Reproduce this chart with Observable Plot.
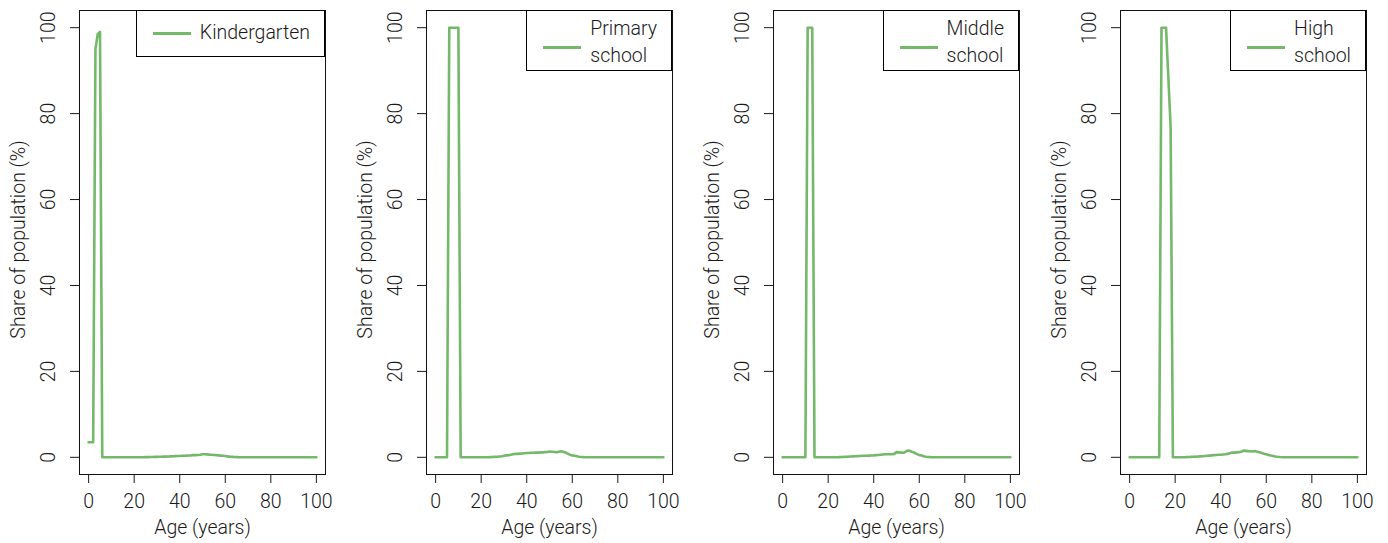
<!DOCTYPE html>
<html>
<head>
<meta charset="utf-8">
<script src="https://cdn.jsdelivr.net/npm/d3@7"></script>
<script src="https://cdn.jsdelivr.net/npm/@observablehq/plot@0.6"></script>
<style>
  html, body { margin: 0; padding: 0; background: #fff; }
  #wrap { display: flex; width: 1388px; height: 543px; }
  .panel { position: relative; width: 347px; height: 543px; }
  .leg { position: absolute; top: 10px; right: 22px; border: 1px solid #000; background: #fff;
         font-family: Roboto, sans-serif; font-weight: 300; font-size: 19.5px; line-height: 26.6px;
         color: #1a1a1a; padding-left: 63px; padding-right: 14px; box-sizing: border-box; }
  .leg.one { padding-top: 9px; height: 47px; }
  .leg.two { padding-top: 5px; height: 61px; }
  .leg .seg { position: absolute; left: 16px; width: 38px; height: 3px; background: #74b86a; }
  .leg.one .seg { top: 20.5px; }
  .leg.two .seg { top: 34.5px; }
</style>
</head>
<body>
<div id="wrap"></div>
<script>
const ages = d3.range(0, 101);

const seriesNames = ["Kindergarten", "Primary\nschool", "Middle\nschool", "High\nschool"];

const kindergarten = [
  3.5,3.5,3.5,95,98.5,99,0,0,0,0,
  0,0,0,0,0,0,0,0,0,0,
  0,0,0,0.02,0.03,0.05,0.05,0.07,0.08,0.1,
  0.1,0.12,0.14,0.15,0.17,0.2,0.22,0.25,0.27,0.3,
  0.32,0.35,0.37,0.4,0.42,0.45,0.5,0.52,0.55,0.6,
  0.7,0.7,0.68,0.62,0.58,0.55,0.5,0.45,0.4,0.35,
  0.3,0.22,0.15,0.1,0.06,0.04,0.02,0,0,0,
  0,0,0,0,0,0,0,0,0,0,
  0,0,0,0,0,0,0,0,0,0,
  0,0,0,0,0,0,0,0,0,0,
  0
];

const primary = [
  0,0,0,0,0,0,100,100,100,100,
  100,0,0,0,0,0,0,0,0,0,
  0,0,0,0.02,0.04,0.06,0.1,0.15,0.2,0.25,
  0.35,0.45,0.5,0.6,0.7,0.8,0.8,0.85,0.9,0.95,
  1.0,1.0,1.05,1.05,1.1,1.1,1.15,1.15,1.2,1.25,
  1.35,1.3,1.25,1.2,1.3,1.4,1.3,1.1,0.85,0.6,
  0.45,0.35,0.25,0.15,0.08,0.04,0.02,0,0,0,
  0,0,0,0,0,0,0,0,0,0,
  0,0,0,0,0,0,0,0,0,0,
  0,0,0,0,0,0,0,0,0,0,
  0
];

const middle = [
  0,0,0,0,0,0,0,0,0,0,
  0,100,100,100,0,0,0,0,0,0,
  0,0,0,0.02,0.03,0.05,0.07,0.1,0.12,0.15,
  0.2,0.22,0.25,0.28,0.3,0.35,0.35,0.38,0.4,0.42,
  0.45,0.5,0.55,0.6,0.65,0.7,0.7,0.72,0.75,0.8,
  1.2,1.15,1.1,1.05,1.3,1.6,1.45,1.25,1.0,0.75,
  0.55,0.4,0.25,0.15,0.08,0.04,0.02,0,0,0,
  0,0,0,0,0,0,0,0,0,0,
  0,0,0,0,0,0,0,0,0,0,
  0,0,0,0,0,0,0,0,0,0,
  0
];

const high = [
  0,0,0,0,0,0,0,0,0,0,
  0,0,0,0,100,100,100,88.5,77,0,
  0,0,0,0.02,0.03,0.05,0.07,0.1,0.12,0.15,
  0.2,0.22,0.25,0.3,0.35,0.4,0.45,0.5,0.55,0.6,
  0.6,0.65,0.7,0.8,0.95,1.1,1.1,1.15,1.2,1.3,
  1.55,1.5,1.45,1.4,1.35,1.45,1.3,1.15,1.0,0.85,
  0.7,0.55,0.4,0.3,0.2,0.12,0.06,0.03,0,0,
  0,0,0,0,0,0,0,0,0,0,
  0,0,0,0,0,0,0,0,0,0,
  0,0,0,0,0,0,0,0,0,0,
  0
];

const allSeries = [kindergarten, primary, middle, high];
const xTicks = [0, 20, 40, 60, 80, 100];
const yTicks = [0, 20, 40, 60, 80, 100];
const xLabel = "Age (years)";
const yLabel = "Share of population (%)";
const lineColor = "#74b86a";
const inkColor = "#1a1a1a";

const wrap = document.getElementById("wrap");

allSeries.forEach((vals, k) => {
  const data = ages.map((a, i) => ({age: a, share: vals[i]}));
  const chart = Plot.plot({
    width: 347,
    height: 543,
    marginLeft: 79,
    marginRight: 22,
    marginTop: 10,
    marginBottom: 69,
    style: {fontFamily: "Roboto, sans-serif", fontWeight: 300, fontSize: "19.5px", color: inkColor, background: "#fff"},
    x: {domain: [-4, 104]},
    y: {domain: [-4, 104]},
    marks: [
      Plot.axisX({ticks: xTicks, tickSize: 9, tickFormat: () => "", label: null, stroke: inkColor}),
      Plot.axisY({ticks: yTicks, tickSize: 9, tickFormat: () => "", label: null, stroke: inkColor}),
      Plot.text(xTicks, {x: d => d, frameAnchor: "bottom", textAnchor: "middle", dy: 27, lineAnchor: "middle", text: d => String(d), fill: inkColor}),
      Plot.text(yTicks, {y: d => d, frameAnchor: "left", textAnchor: "middle", dx: -31, lineAnchor: "middle", rotate: -90, text: d => String(d), fill: inkColor}),
      Plot.text([xLabel], {frameAnchor: "bottom", textAnchor: "middle", dy: 53, lineAnchor: "middle", text: d => d, fill: inkColor}),
      Plot.text([yLabel], {frameAnchor: "left", textAnchor: "middle", dx: -60.5, dy: -3, lineAnchor: "middle", rotate: -90, text: d => d, fill: inkColor}),
      Plot.line(data, {x: "age", y: "share", stroke: lineColor, strokeWidth: 2.6}),
      Plot.frame({stroke: "#111"})
    ]
  });
  const panel = document.createElement("div");
  panel.className = "panel";
  panel.appendChild(chart);
  const name = seriesNames[k];
  const lines = name.split("\n");
  const leg = document.createElement("div");
  leg.className = "leg " + (lines.length > 1 ? "two" : "one");
  const seg = document.createElement("span");
  seg.className = "seg";
  leg.appendChild(seg);
  const txt = document.createElement("div");
  txt.innerHTML = lines.join("<br>");
  leg.appendChild(txt);
  panel.appendChild(leg);
  wrap.appendChild(panel);
});
</script>
</body>
</html>
